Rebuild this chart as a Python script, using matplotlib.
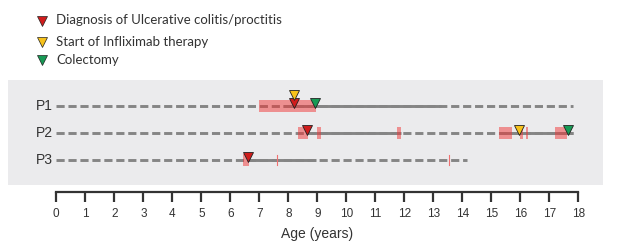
import numpy as np
import matplotlib
matplotlib.use("Agg")
import matplotlib.pyplot as plt
from matplotlib.patches import Rectangle

# data (ages in years)
patients = ["P1", "P2", "P3"]
follow_end = [17.83, 17.83, 14.16]
# periods with solid line (observed), the rest of follow-up is dashed
solid_periods = [
    [(7.8, 13.25)],
    [(8.75, 11.9), (15.25, 17.83)],
    [(6.6, 8.96)],
]
# flares (pink boxes)
flares = [
    [(7.0, 8.95)],
    [(8.33, 8.67), (8.98, 9.12), (11.76, 11.9), (15.25, 15.7),
     (16.0, 16.1), (16.18, 16.28), (17.2, 17.6)],
    [(6.45, 6.64)],
]
# short flare marks (thin lines)
flare_marks = [[], [], [7.62, 13.53]]

diagnosis = [8.2, 8.65, 6.6]
infliximab = [8.2, 15.96, None]
colectomy = [8.93, 17.65, None]

legend_labels = ["Diagnosis of Ulcerative colitis/proctitis",
                 "Start of Infliximab therapy",
                 "Colectomy"]
xticks = list(range(0, 19))

RED = "#d01c1c"
YELLOW = "#f7c21b"
GREEN = "#179a55"
LINE = "#858585"

W, H = 617, 252
fig = plt.figure(figsize=(W / 100, H / 100), dpi=100)

x0_px, x18_px = 56.3, 578.3
left = x0_px / W
width = (x18_px - x0_px) / W

# grey background panel
bg = fig.add_axes([8 / W, (H - 185) / H, 595 / W, 105 / H], zorder=0)
bg.set_facecolor("#ebebed")
bg.set_xticks([])
bg.set_yticks([])
for s in bg.spines.values():
    s.set_visible(False)

ax = fig.add_axes([left, 0, width, 1], zorder=2)
ax.set_xlim(0, 18)
ax.set_ylim(H, 0)
ax.axis("off")

row_y = [106, 133, 160]

for i, p in enumerate(patients):
    y = row_y[i]
    # dashed follow-up
    ax.plot([0, follow_end[i]], [y, y], color=LINE, lw=2.1,
            dashes=(2.8, 1.3), dash_capstyle="butt", zorder=2)
    for a, b in solid_periods[i]:
        ax.plot([a, b], [y, y], color=LINE, lw=2.1,
                solid_capstyle="butt", zorder=3)
    for a, b in flares[i]:
        ax.add_patch(Rectangle((a, y - 6), b - a, 12, facecolor="#f03434",
                               alpha=0.5, edgecolor="none", zorder=4))
    for m in flare_marks[i]:
        ax.plot([m, m], [y - 5, y + 5], color="#f07070", lw=0.8, zorder=4)
    fig.text(53 / W, 1 - y / H, p, ha="right", va="center", fontsize=10,
             family="Liberation Sans", color="#333333")

    mk = dict(marker="v", ms=7.5, mec="#222222", mew=0.6, ls="none", zorder=6)
    ax.plot(diagnosis[i], y - 3.5, mfc=RED, **mk)
    if infliximab[i] is not None:
        dy = -11 if abs(infliximab[i] - diagnosis[i]) < 0.2 else -3.5
        ax.plot(infliximab[i], y + dy, mfc=YELLOW, **mk)
    if colectomy[i] is not None:
        ax.plot(colectomy[i], y - 3.5, mfc=GREEN, **mk)

# legend
leg_y = [20.5, 41.5, 60]
leg_col = [RED, YELLOW, GREEN]
for ly, lc, lab in zip(leg_y, leg_col, legend_labels):
    fig.lines.append(plt.Line2D([41.7 / W], [1 - ly / H], marker="v", ms=6.5,
                                mfc=lc, mec="#222222", mew=0.5, ls="none",
                                transform=fig.transFigure))
    fig.text(56 / W, 1 - ly / H, lab, ha="left", va="center", fontsize=9.5,
             family="Lato", color="#333333")

# age ruler
rax = fig.add_axes([left, (H - 192) / H, width, 0.001])
rax.set_xlim(0, 18)
rax.set_yticks([])
rax.patch.set_alpha(0)
for s in ["top", "left", "right"]:
    rax.spines[s].set_visible(False)
rax.spines["bottom"].set_linewidth(1.6)
rax.spines["bottom"].set_color("#333333")
rax.set_xticks(xticks)
rax.tick_params(axis="x", direction="out", length=7.2, width=1.6,
                color="#333333", labelsize=8.5, labelcolor="#333333", pad=4)
for t in rax.get_xticklabels():
    t.set_family("Liberation Sans")
fig.text((x0_px + 9 * 29) / W, 1 - 234 / H, "Age (years)", ha="center",
         va="center", fontsize=10, family="Liberation Sans", color="#333333")

fig.savefig("out.png", dpi=100)
